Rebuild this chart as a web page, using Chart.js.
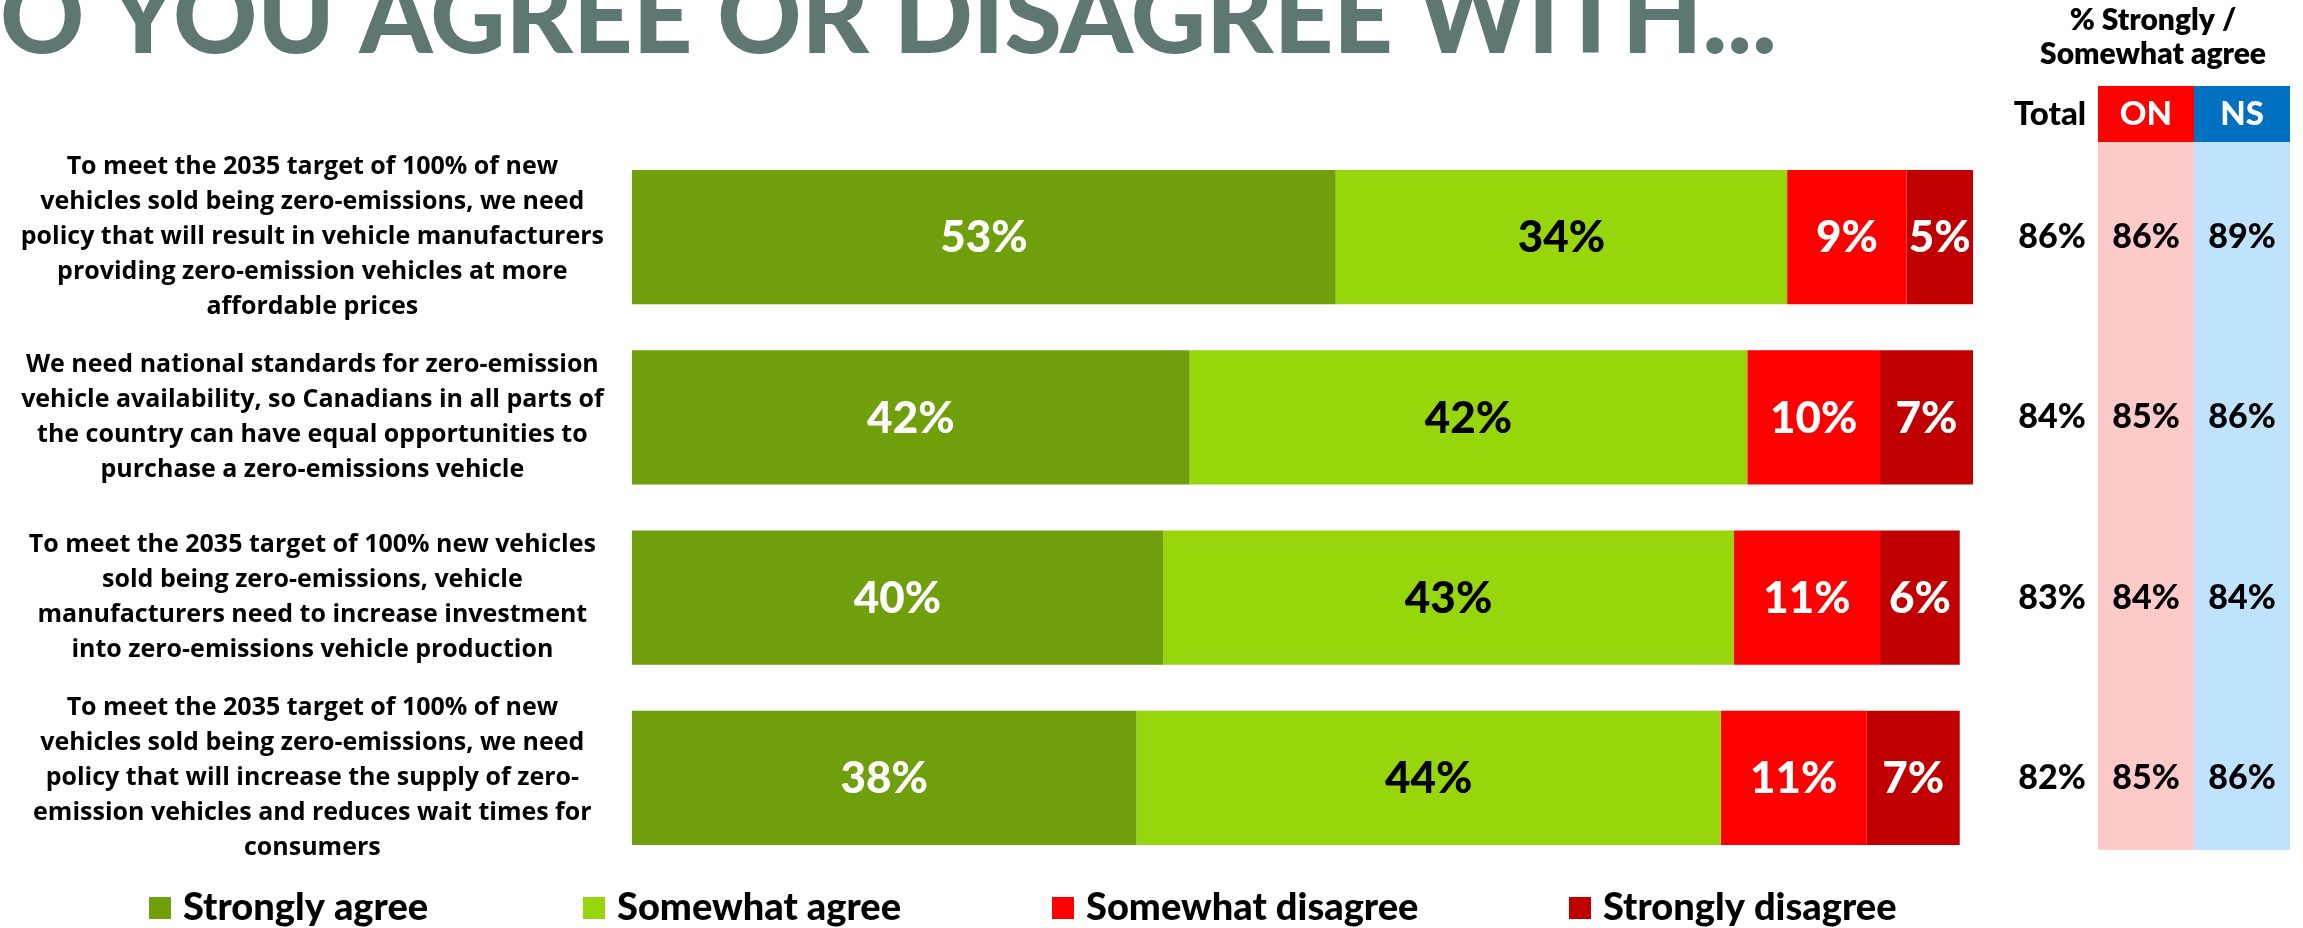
<!DOCTYPE html>
<html>
<head>
<meta charset="utf-8">
<script src="https://cdn.jsdelivr.net/npm/chart.js@4/dist/chart.umd.min.js"></script>
<style>
  html, body { margin: 0; padding: 0; background: #fff; }
  #wrap { width: 2303px; height: 928px; position: relative; }
</style>
</head>
<body>
<div id="wrap"><canvas id="agreeChart"></canvas></div>
<script>
const statements = [
  ['To meet the 2035 target of 100% of new', 'vehicles sold being zero-emissions, we need', 'policy that will result in vehicle manufacturers', 'providing zero-emission vehicles at more', 'affordable prices'],
  ['We need national standards for zero-emission', 'vehicle availability, so Canadians in all parts of', 'the country can have equal opportunities to', 'purchase a zero-emissions vehicle'],
  ['To meet the 2035 target of 100% new vehicles', 'sold being zero-emissions, vehicle', 'manufacturers need to increase investment', 'into zero-emissions vehicle production'],
  ['To meet the 2035 target of 100% of new', 'vehicles sold being zero-emissions, we need', 'policy that will increase the supply of zero-', 'emission vehicles and reduces wait times for', 'consumers']
];
const stronglyAgree = [53, 42, 40, 38];
const somewhatAgree = [34, 42, 43, 44];
const somewhatDisagree = [9, 10, 11, 11];
const stronglyDisagree = [5, 7, 6, 7];

// % strongly / somewhat agree, by region
const totalAgree = [86, 84, 83, 82];
const onAgree = [86, 85, 84, 85];
const nsAgree = [89, 86, 84, 86];

const titleText = 'DO YOU AGREE OR DISAGREE WITH...';
const legendX = [149, 583, 1052, 1569];

// title, legend and the regional agree table on the right
const decorations = {
  id: 'decorations',
  beforeDraw(chart) {
    const ctx = chart.ctx;
    const y = chart.scales.y;
    const top = 142;
    const bottom = y.getPixelForValue(statements.length - 1) + 72;
    ctx.save();
    ctx.fillStyle = '#fdcaca';
    ctx.fillRect(2098, top, 96, bottom - top);
    ctx.fillStyle = '#bfe3fd';
    ctx.fillRect(2194, top, 96, bottom - top);
    ctx.fillStyle = '#ff0000';
    ctx.fillRect(2098, 86, 96, 56);
    ctx.fillStyle = '#0070c0';
    ctx.fillRect(2194, 86, 96, 56);
    ctx.restore();
  },
  afterDraw(chart) {
    const ctx = chart.ctx;
    const y = chart.scales.y;
    ctx.save();

    // heading, the leading "D" runs off the left edge
    ctx.font = '900 100px Lato';
    const visible = ctx.measureText(titleText.slice(1)).width;
    const size = 100 * 1777 / visible;
    ctx.font = `900 ${size}px Lato`;
    const dWidth = ctx.measureText('D').width;
    ctx.fillStyle = '#5e7773';
    ctx.textAlign = 'left';
    ctx.textBaseline = 'alphabetic';
    ctx.fillText(titleText, -dWidth, 53);

    // table header
    ctx.fillStyle = '#000';
    ctx.textAlign = 'center';
    ctx.font = '800 30px Lato';
    ctx.fillText('% Strongly /', 2153, 30);
    ctx.fillText('Somewhat agree', 2153, 64);
    ctx.font = '900 33px Lato';
    ctx.fillText('Total', 2050, 125);
    ctx.fillStyle = '#fff';
    ctx.fillText('ON', 2146, 125);
    ctx.fillText('NS', 2242, 125);

    // table values
    ctx.fillStyle = '#000';
    ctx.font = '900 34px Lato';
    ctx.textBaseline = 'middle';
    statements.forEach((s, i) => {
      const py = y.getPixelForValue(i);
      ctx.fillText(totalAgree[i] + '%', 2052, py);
      ctx.fillText(onAgree[i] + '%', 2146, py);
      ctx.fillText(nsAgree[i] + '%', 2242, py);
    });

    // legend
    ctx.font = '900 38px Lato';
    ctx.textAlign = 'left';
    ctx.textBaseline = 'alphabetic';
    chart.data.datasets.forEach((ds, i) => {
      const x = legendX[i];
      ctx.fillStyle = ds.backgroundColor;
      ctx.fillRect(x, 897, 22, 22);
      ctx.fillStyle = '#000';
      ctx.fillText(ds.label, x + 34, 920);
    });
    ctx.restore();
  }
};

// percentage labels centred in each bar segment
const segmentLabels = {
  id: 'segmentLabels',
  afterDatasetsDraw(chart) {
    const ctx = chart.ctx;
    ctx.save();
    ctx.font = '900 44px Lato';
    ctx.textAlign = 'center';
    ctx.textBaseline = 'middle';
    chart.data.datasets.forEach((ds, i) => {
      const meta = chart.getDatasetMeta(i);
      meta.data.forEach((bar, j) => {
        ctx.fillStyle = ds.labelColor;
        ctx.fillText(ds.data[j] + '%', (bar.x + bar.base) / 2, bar.y + 1);
      });
    });
    ctx.restore();
  }
};

const ctx = document.getElementById('agreeChart').getContext('2d');

new Chart(ctx, {
  type: 'bar',
  data: {
    labels: statements,
    datasets: [
      { label: 'Strongly agree', data: stronglyAgree, backgroundColor: '#6f9f0a', labelColor: '#fff' },
      { label: 'Somewhat agree', data: somewhatAgree, backgroundColor: '#97d60b', labelColor: '#000' },
      { label: 'Somewhat disagree', data: somewhatDisagree, backgroundColor: '#ff0000', labelColor: '#fff' },
      { label: 'Strongly disagree', data: stronglyDisagree, backgroundColor: '#c00000', labelColor: '#fff' }
    ]
  },
  options: {
    indexAxis: 'y',
    responsive: true,
    maintainAspectRatio: false,
    animation: false,
    layout: {
      padding: { top: 147, bottom: 60, left: 0, right: 330 }
    },
    datasets: {
      bar: { barPercentage: 1, categoryPercentage: 0.744, borderWidth: 0 }
    },
    scales: {
      x: {
        stacked: true,
        min: 0,
        max: 101,
        display: false
      },
      y: {
        stacked: true,
        grid: { display: false, drawTicks: false, tickLength: 0 },
        border: { display: false },
        afterFit: (scale) => {
          scale.width = 632;
          // tall wrapped labels should not shrink the plot area
          scale.paddingTop = 0;
          scale.paddingBottom = 0;
        },
        ticks: {
          crossAlign: 'center',
          padding: 28,
          color: '#000',
          font: { family: 'Open Sans', weight: 'bold', size: 25, lineHeight: '35px' }
        }
      }
    },
    plugins: {
      legend: { display: false },
      tooltip: { enabled: false }
    }
  },
  plugins: [decorations, segmentLabels]
});
</script>
</body>
</html>
